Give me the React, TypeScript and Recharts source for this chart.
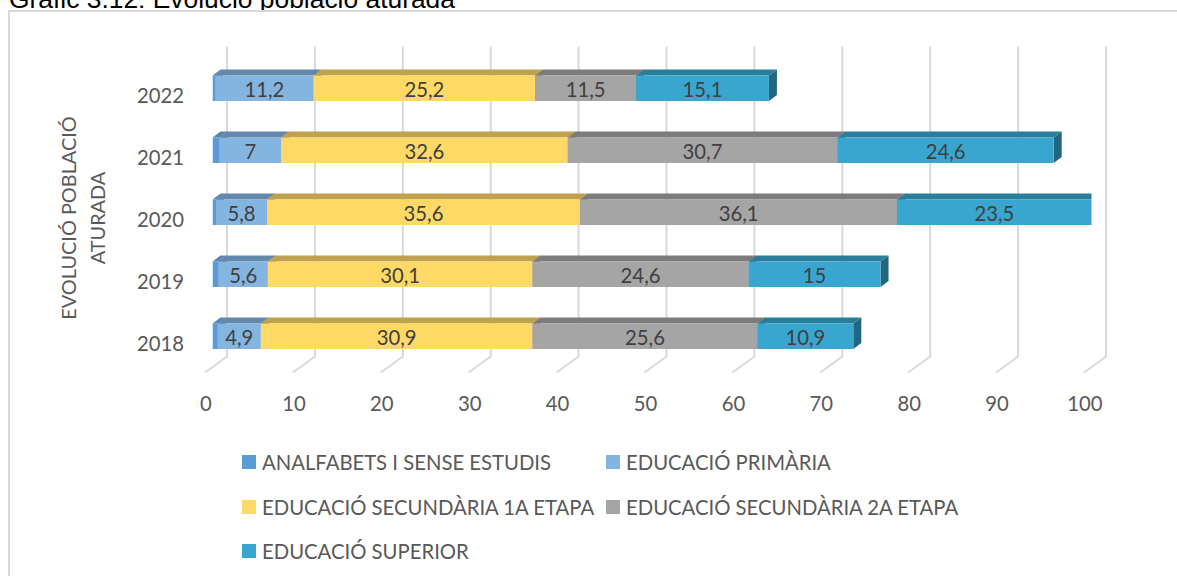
import { BarChart, Bar, XAxis, YAxis, CartesianGrid, Legend, LabelList } from "recharts";

const years = ["2022", "2021", "2020", "2019", "2018"];
const analfabets = [0.3, 0.8, 0.4, 0.7, 0.6];
const primaria = [11.2, 7, 5.8, 5.6, 4.9];
const secundaria1 = [25.2, 32.6, 35.6, 30.1, 30.9];
const secundaria2 = [11.5, 30.7, 36.1, 24.6, 25.6];
const superior = [15.1, 24.6, 23.5, 15, 10.9];
const xTicks = [0, 10, 20, 30, 40, 50, 60, 70, 80, 90, 100];

const data = years.map((year, i) => ({
  year,
  analfabets: analfabets[i],
  primaria: primaria[i],
  secundaria1: secundaria1[i],
  secundaria2: secundaria2[i],
  superior: superior[i],
}));

const FONT = "Lato, sans-serif";
const PLOT_LEFT = 212.5;
const PLOT_RIGHT = 1091.5;
const DX = 8;
const DY = 6;

function bar3d(front: string, top: string, side: string) {
  return (props: any) => {
    const { x, y, height } = props;
    const right = Math.min(x + props.width, PLOT_RIGHT);
    const width = right - x;
    return (
      <g>
        <polygon points={`${right},${y} ${right + DX},${y - DY} ${right + DX},${y + height - DY} ${right},${y + height}`} fill={side} />
        <polygon points={`${x},${y} ${x + DX},${y - DY} ${right + DX},${y - DY} ${right},${y}`} fill={top} />
        <rect x={x} y={y} width={width} height={height} fill={front} />
      </g>
    );
  };
}

function barLabel(props: any) {
  const { x, y, width, height, value } = props;
  const right = Math.min(x + width, PLOT_RIGHT);
  return (
    <text x={(x + right) / 2} y={y + height / 2 + 9} textAnchor="middle" fontFamily={FONT} fontSize={20.3} fill="#404040">
      {String(value).replace(".", ",")}
    </text>
  );
}

function gridLine(props: any) {
  const { x1, y1, y2 } = props;
  return (
    <polyline
      key={props.key ?? x1}
      points={`${x1 + 14.5},${y1 - 11} ${x1 + 14.5},${y2 - 11} ${x1 - 7.5},${y2 + 5}`}
      fill="none"
      stroke="#D9D9D9"
      strokeWidth={2}
    />
  );
}

function xTick(props: any) {
  return (
    <text x={props.x - 6.5} y={411} textAnchor="middle" fontFamily={FONT} fontSize={20.3} fill="#595959">
      {props.payload.value}
    </text>
  );
}

function yTick(props: any) {
  return (
    <text x={184} y={props.y + 14.5} textAnchor="end" fontFamily={FONT} fontSize={20.3} fill="#595959">
      {props.payload.value}
    </text>
  );
}

function axisTitle() {
  return (
    <g fontFamily={FONT} fontSize={19.9} fill="#595959" textAnchor="middle">
      <text transform="translate(76,218) rotate(-90)">EVOLUCIÓ POBLACIÓ</text>
      <text transform="translate(105,218) rotate(-90)">ATURADA</text>
    </g>
  );
}

function legendContent(props: any) {
  return (
    <div style={{ display: "grid", gridTemplateColumns: "364px 400px", gridAutoRows: "44.5px", fontFamily: FONT, fontSize: 20.3, color: "#595959" }}>
      {props.payload.map((item: any) => (
        <div key={item.value} style={{ display: "flex", alignItems: "center", height: 44.5, whiteSpace: "nowrap" }}>
          <span style={{ width: 14, height: 14, background: item.color, marginRight: 6 }} />
          {item.value}
        </div>
      ))}
    </div>
  );
}

export default function App() {
  return (
    <div style={{ position: "absolute", left: 0, top: 0, width: 1177, height: 576, overflow: "hidden", background: "#fff" }}>
      <div style={{ position: "absolute", left: 9, top: -16, fontFamily: "'Liberation Sans', Arial, sans-serif", fontSize: 26.4, lineHeight: "30px", color: "#000", whiteSpace: "nowrap" }}>
        Gràfic 3.12: Evolució població aturada
      </div>
      <div style={{ position: "absolute", left: 8, top: 10, width: 1200, height: 600, border: "2px solid #D9D9D9", boxSizing: "border-box", background: "#fff" }} />
      <BarChart
        width={1177}
        height={576}
        data={data}
        layout="vertical"
        margin={{ top: 57.5, right: 85.5, bottom: 35.5, left: 100 }}
        style={{ position: "absolute", left: 0, top: 0 }}
      >
        <CartesianGrid horizontal={false} vertical={gridLine} />
        <XAxis type="number" domain={[0, 100]} ticks={xTicks} allowDataOverflow axisLine={false} tickLine={false} height={40} tick={xTick} interval={0} />
        <YAxis type="category" dataKey="year" width={PLOT_LEFT - 100} axisLine={false} tickLine={false} tick={yTick} label={axisTitle} />
        <Legend
          verticalAlign="bottom"
          height={133}
          content={legendContent}
          wrapperStyle={{ position: "absolute", left: 242, top: 440, width: 800, height: 133 }}
        />
        <Bar dataKey="analfabets" name="ANALFABETS I SENSE ESTUDIS" stackId="a" barSize={25.5} fill="#5B9BD5" shape={bar3d("#5B9BD5", "#5A87B0", "#44749F")} isAnimationActive={false} />
        <Bar dataKey="primaria" name="EDUCACIÓ PRIMÀRIA" stackId="a" barSize={25.5} fill="#84B5E0" shape={bar3d("#84B5E0", "#6488AB", "#5F86A8")} isAnimationActive={false}>
          <LabelList dataKey="primaria" content={barLabel} />
        </Bar>
        <Bar dataKey="secundaria1" name="EDUCACIÓ SECUNDÀRIA 1A ETAPA" stackId="a" barSize={25.5} fill="#FFD966" shape={bar3d("#FFD966", "#BFA24D", "#A68D42")} isAnimationActive={false}>
          <LabelList dataKey="secundaria1" content={barLabel} />
        </Bar>
        <Bar dataKey="secundaria2" name="EDUCACIÓ SECUNDÀRIA 2A ETAPA" stackId="a" barSize={25.5} fill="#A5A5A5" shape={bar3d("#A5A5A5", "#7C7C7C", "#6B6B6B")} isAnimationActive={false}>
          <LabelList dataKey="secundaria2" content={barLabel} />
        </Bar>
        <Bar dataKey="superior" name="EDUCACIÓ SUPERIOR" stackId="a" barSize={25.5} fill="#38A6CF" shape={bar3d("#38A6CF", "#2A7E9C", "#226680")} isAnimationActive={false}>
          <LabelList dataKey="superior" content={barLabel} />
        </Bar>
      </BarChart>
    </div>
  );
}
